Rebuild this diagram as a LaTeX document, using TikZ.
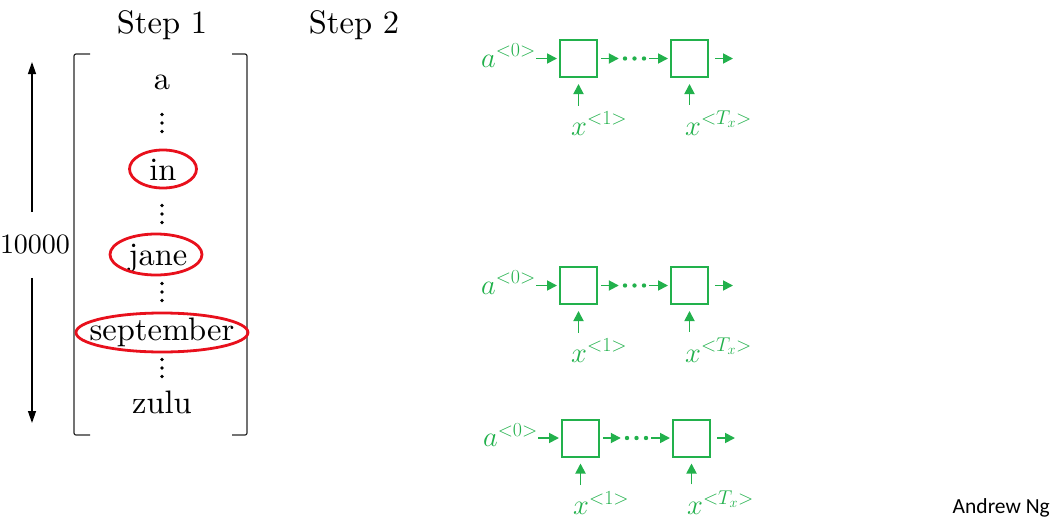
\RequirePackage{fix-cm}
\documentclass[tikz,border=0pt]{standalone}
\usepackage{fontspec}
\setmainfont{lmroman10-regular.otf}
\newfontfamily\ngfont{Carlito}
\usetikzlibrary{arrows.meta, calc}
\definecolor{rnngreen}{RGB}{34,177,76}
\definecolor{markred}{RGB}{232,16,28}
\definecolor{bracketgray}{RGB}{40,40,40}

\begin{document}
\begin{tikzpicture}[x=1pt, y=-1pt,
    word/.style={font=\fontsize{32.5}{36}\selectfont, inner sep=0pt, anchor=base},
    marked/.style={draw=markred, line width=2.8pt},
    dimarrow/.style={line width=1.3pt, -{Triangle[length=12pt,width=8pt]}},
    cell/.style={draw=rnngreen, line width=2pt, minimum size=37pt, inner sep=0pt},
    glabel/.style={rnngreen, font=\fontsize{28.5}{30}\selectfont, inner sep=0pt},
    garrow/.style={rnngreen, line width=1.8pt, -{Triangle[length=10pt,width=10pt]}}]

    \useasboundingbox (0,0) rectangle (1053,522);

    \node[word] (step1) at (162,34) {Step 1};
    \node[word] (step2) at (354,34) {Step 2};

    % vocabulary vector
    \draw[bracketgray, line width=1.2pt, rounded corners=2pt] (90,54) -- (74,54) -- (74,435) -- (90,435);
    \draw[bracketgray, line width=1.2pt, rounded corners=2pt] (232,54) -- (247,54) -- (247,435) -- (232,435);

    \node[word] (w-a) at (162,89) {a};
    \node[word] (w-in) at (163,180) {in};
    \node[word] (w-jane) at (158,265) {jane};
    \node[word] (w-sep) at (162,340) {september};
    \node[word] (w-zulu) at (162,413) {zulu};
    \draw[marked] ([yshift=11pt]w-in.base) ellipse [x radius=33.5, y radius=19];
    \draw[marked] ([xshift=-2pt, yshift=10.5pt]w-jane.base) ellipse [x radius=46, y radius=20.5];
    \draw[marked] ([yshift=7.5pt]w-sep.base) ellipse [x radius=86, y radius=19.5];
    \foreach \y in {123,214,292,368}
        \foreach \k in {-8.5,0,8.5}
            \fill (162,\y+\k) circle (1.9);

    \node[font=\fontsize{28}{30}\selectfont, inner sep=0pt, anchor=base] (vocab) at (35,253) {10000};
    \coordinate (vtop) at (32,62);
    \coordinate (vbot) at (32,423);
    \draw[dimarrow, shorten <=22pt] (vocab.north -| vtop) -- (vtop);
    \draw[dimarrow, shorten <=24pt] (vocab.south -| vbot) -- (vbot);

    % Step 2: three rnn chains
    \foreach \r/\dx/\dy in {1/0/0, 2/0/227, 3/2/379.5} {
        \node[cell] (c1-\r) at (578.5+\dx, 58.5+\dy) {};
        \node[cell] (c2-\r) at (689.5+\dx, 58.5+\dy) {};
        \node[inner sep=0pt, minimum width=29pt, minimum height=6pt] (dots-\r) at (634.5+\dx, 58.5+\dy) {};
        \foreach \k in {-9.5,0,9.5}
            \fill[rnngreen] ($(dots-\r)+(\k,0)$) circle (2.2);
        \node[glabel, anchor=base east] (a0-\r) at (536+\dx, 67+\dy) {$a^{<0>}$};
        \node[glabel, anchor=base west] (x1-\r) at (571+\dx, 135+\dy) {$x^{<1>}$};
        \node[glabel, anchor=base west] (xT-\r) at (685+\dx, 135+\dy) {$x^{<T_x>}$};
        \coordinate (out-\r) at (733+\dx, 58.5+\dy);
        \draw[garrow, shorten >=2pt] (a0-\r.east |- c1-\r) -- (c1-\r);
        \draw[garrow, shorten <=3pt, shorten >=1pt] (c1-\r) -- (dots-\r);
        \draw[garrow, shorten >=2pt] (dots-\r) -- (c2-\r);
        \draw[garrow, shorten <=6pt] (c2-\r) -- (out-\r);
        \draw[garrow, shorten <=6pt, shorten >=6pt] (x1-\r.north -| c1-\r.south) -- (c1-\r.south);
        \draw[garrow, shorten <=6pt, shorten >=6pt] (xT-\r.north -| c2-\r.south) -- (c2-\r.south);
    }

    \node[font=\ngfont\fontsize{21.5}{24}\selectfont, inner sep=0pt, anchor=base east] (credit) at (1050,513) {Andrew Ng};

\end{tikzpicture}
\end{document}
